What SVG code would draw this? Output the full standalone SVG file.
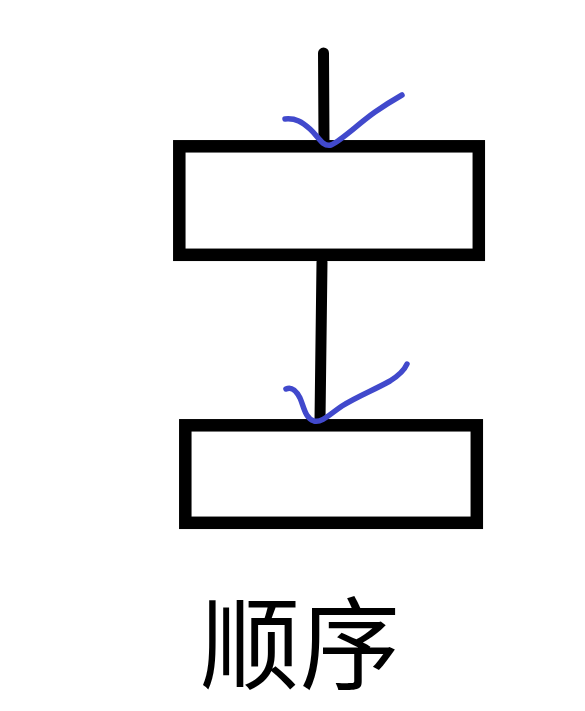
<svg xmlns="http://www.w3.org/2000/svg" width="585" height="711" viewBox="0 0 585 711">
<style>
.box{fill:#fff;stroke:#000;stroke-width:12.5}
.line{fill:none;stroke:#000;stroke-width:11;stroke-linecap:round}
.check{fill:none;stroke:#4149cc;stroke-width:5.5;stroke-linecap:round;stroke-linejoin:round}
.lbl{font-family:"Noto Sans CJK SC","Noto Sans",sans-serif;font-size:100px;fill:#000}
</style>
<rect width="585" height="711" fill="#fff"/>
<g id="connectors">
<path class="line" d="M323.5 53 L324 141"/>
<path class="line" d="M322 262 L320 420"/>
</g>
<g id="box1"><rect class="box" x="179.3" y="146.3" width="299.5" height="108.5"/></g>
<g id="box2"><rect class="box" x="185.3" y="425.3" width="291.5" height="97.5"/></g>
<g id="check1"><path class="check" d="M285 119 C296 118 302 122 310 129 C318 136 322 147 331 145 C342 140 358 124 375 112 C388 103 395 99 402 95"/></g>
<g id="check2"><path class="check" d="M286 389 C292 386 297 392 300 398 C304 407 305 418 314 421 C322 423 330 414 342 406 C358 396 374 390 390 381 C398 376 404 371 407 364"/></g>
<g id="label"><text class="lbl" x="300" y="681" text-anchor="middle">顺序</text></g>
</svg>
